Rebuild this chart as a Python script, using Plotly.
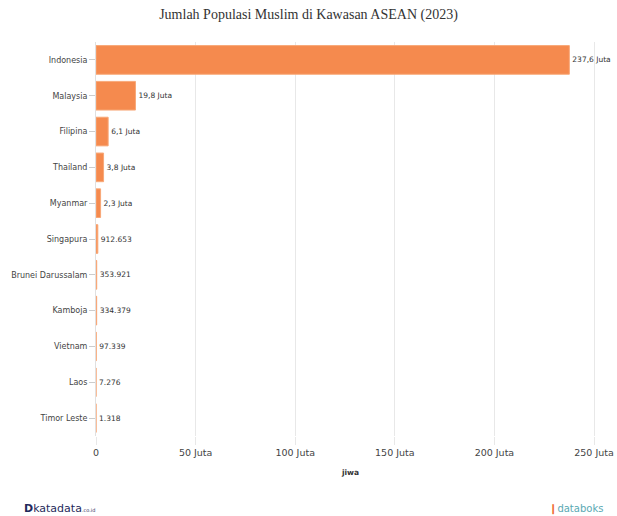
import plotly.graph_objects as go

countries = ["Indonesia", "Malaysia", "Filipina", "Thailand", "Myanmar", "Singapura",
             "Brunei Darussalam", "Kamboja", "Vietnam", "Laos", "Timor Leste"]
values = [237600000, 19800000, 6100000, 3800000, 2300000, 912653,
          353921, 334379, 97339, 7276, 1318]
labels = ["237,6 Juta", "19,8 Juta", "6,1 Juta", "3,8 Juta", "2,3 Juta", "912.653",
          "353.921", "334.379", "97.339", "7.276", "1.318"]
tick_vals = [0, 50e6, 100e6, 150e6, 200e6, 250e6]
tick_text = ["0", "50 Juta", "100 Juta", "150 Juta", "200 Juta", "250 Juta"]

fig = go.Figure(go.Bar(
    x=values, y=countries, orientation="h",
    marker=dict(color="#F58A4E", line=dict(color="#F8A878", width=1)),
    text=labels, textposition="outside", cliponaxis=False,
    textfont=dict(family="DejaVu Sans", size=7.5, color="#333333"),
))

fig.update_layout(
    width=617, height=516,
    margin=dict(l=96, r=12, t=42, b=80),
    paper_bgcolor="white", plot_bgcolor="white",
    title=dict(text="Jumlah Populasi Muslim di Kawasan ASEAN (2023)",
               x=0.5, xanchor="center", y=0.972, yanchor="middle",
               font=dict(family="Liberation Serif", size=14, color="#333333")),
    bargap=0.2,
    showlegend=False,
    xaxis=dict(range=[0, 255.5e6], tickvals=tick_vals, ticktext=tick_text,
               showgrid=True, gridcolor="#e8e8e8", gridwidth=1, zeroline=False,
               showline=False, ticks="outside", ticklen=8, tickcolor="#e8e8e8",
               ticklabeloverflow="allow", automargin=False,
               tickfont=dict(family="DejaVu Sans", size=9.5, color="#444444"),
               title=dict(text="<b>jiwa</b>", standoff=12,
                          font=dict(family="DejaVu Sans", size=7.5, color="#333333"))),
    yaxis=dict(autorange="reversed", showgrid=False, zeroline=False,
               showline=True, linecolor="#e0e0e0", linewidth=1,
               ticks="outside", ticklen=6, tickcolor="#cccccc", automargin=False,
               tickfont=dict(family="DejaVu Sans", size=8, color="#444444")),
)

fig.add_annotation(text="<b>D</b>katadata<span style='font-size:5px'>.co.id</span>",
                   xref="paper", yref="paper", x=-0.145, y=-0.185, xanchor="left", yanchor="middle",
                   showarrow=False, font=dict(family="DejaVu Sans", size=11, color="#1f2a5c"))
fig.add_annotation(text="<span style='color:#f0703a'>\u2759</span>databoks",
                   xref="paper", yref="paper", x=1.0, y=-0.185, xanchor="right", yanchor="middle",
                   showarrow=False, font=dict(family="DejaVu Sans", size=10, color="#5aa9b3"))

fig.write_html("out.html")
